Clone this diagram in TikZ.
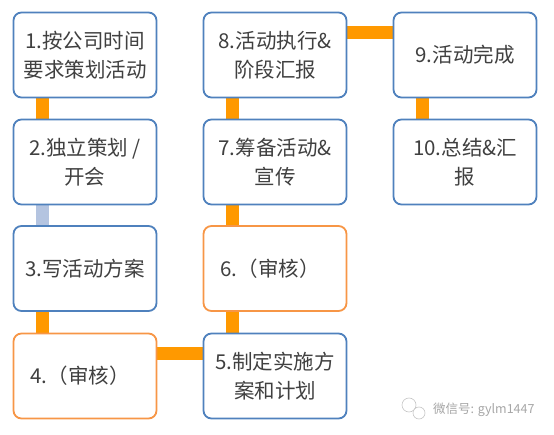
\documentclass[tikz,border=0pt]{standalone}
\usepackage{fontspec}
\setmainfont{Noto Sans CJK SC}
\usetikzlibrary{backgrounds}
\definecolor{boxblue}{HTML}{4F81BD}
\definecolor{boxorange}{HTML}{F79646}
\definecolor{connorange}{HTML}{FF9900}
\definecolor{connblue}{HTML}{B4C4E0}
\definecolor{txt}{HTML}{404040}
\begin{document}
\begin{tikzpicture}[x=1pt,y=-1pt,
  stepbox/.style={draw=boxblue,line width=1.8pt,fill=white,rounded corners=8pt,
    minimum width=143pt,minimum height=85pt,align=center,text=txt,
    font=\fontsize{20.5}{29}\selectfont,inner sep=0pt},
  reviewbox/.style={stepbox,draw=boxorange},
  conn/.style={connorange,line width=13pt},
  connb/.style={connblue,line width=13pt}]
\useasboundingbox (0,0) rectangle (554,435);
\node[stepbox] (b1) at (85,55) {1.按公司时间\\要求策划活动};
\node[stepbox] (b2) at (85,162) {2.独立策划 /\\开会};
\node[stepbox] (b3) at (85,268.5) {3.写活动方案};
\node[reviewbox] (b4) at (85,376) {4.（审核）\hspace*{10pt}};
\node[stepbox] (b5) at (275,376) {5.制定实施方\\案和计划};
\node[reviewbox] (b6) at (275,268.5) {6.（审核）\hspace*{10pt}};
\node[stepbox] (b7) at (275,162) {7.筹备活动\&\\宣传};
\node[stepbox] (b8) at (275,55) {8.活动执行\&\\阶段汇报};
\node[stepbox] (b9) at (465,55) {9.活动完成};
\node[stepbox] (b10) at (465,162) {10.总结\&汇\\报};
\begin{scope}[on background layer]
\draw[conn] ([xshift=-42.5pt]b1.south) -- ([xshift=-42.5pt]b2.north);
\draw[connb] ([xshift=-42.5pt]b2.south) -- ([xshift=-42.5pt]b3.north);
\draw[conn] ([xshift=-42.5pt]b3.south) -- ([xshift=-42.5pt]b4.north);
\draw[conn] ([yshift=22.5pt]b4.east) -- ([yshift=22.5pt]b5.west);
\draw[conn] ([xshift=-42.5pt]b5.north) -- ([xshift=-42.5pt]b6.south);
\draw[conn] ([xshift=-42.5pt]b6.north) -- ([xshift=-42.5pt]b7.south);
\draw[conn] ([xshift=-42.5pt]b7.north) -- ([xshift=-42.5pt]b8.south);
\draw[conn] ([yshift=22pt]b8.east) -- ([yshift=22pt]b9.west);
\draw[conn] ([xshift=-42.5pt]b9.south) -- ([xshift=-42.5pt]b10.north);
\end{scope}
\draw[gray!45,line width=0.6pt] (409,405) circle (7pt);
\draw[gray!45,line width=0.6pt,fill=white] (419,413) circle (6pt);
\node[text=gray!70,font=\fontsize{12.5}{14}\selectfont,anchor=west,inner sep=0pt] (wm) at (433,410) {微信号: gylm1447};
\end{tikzpicture}
\end{document}
